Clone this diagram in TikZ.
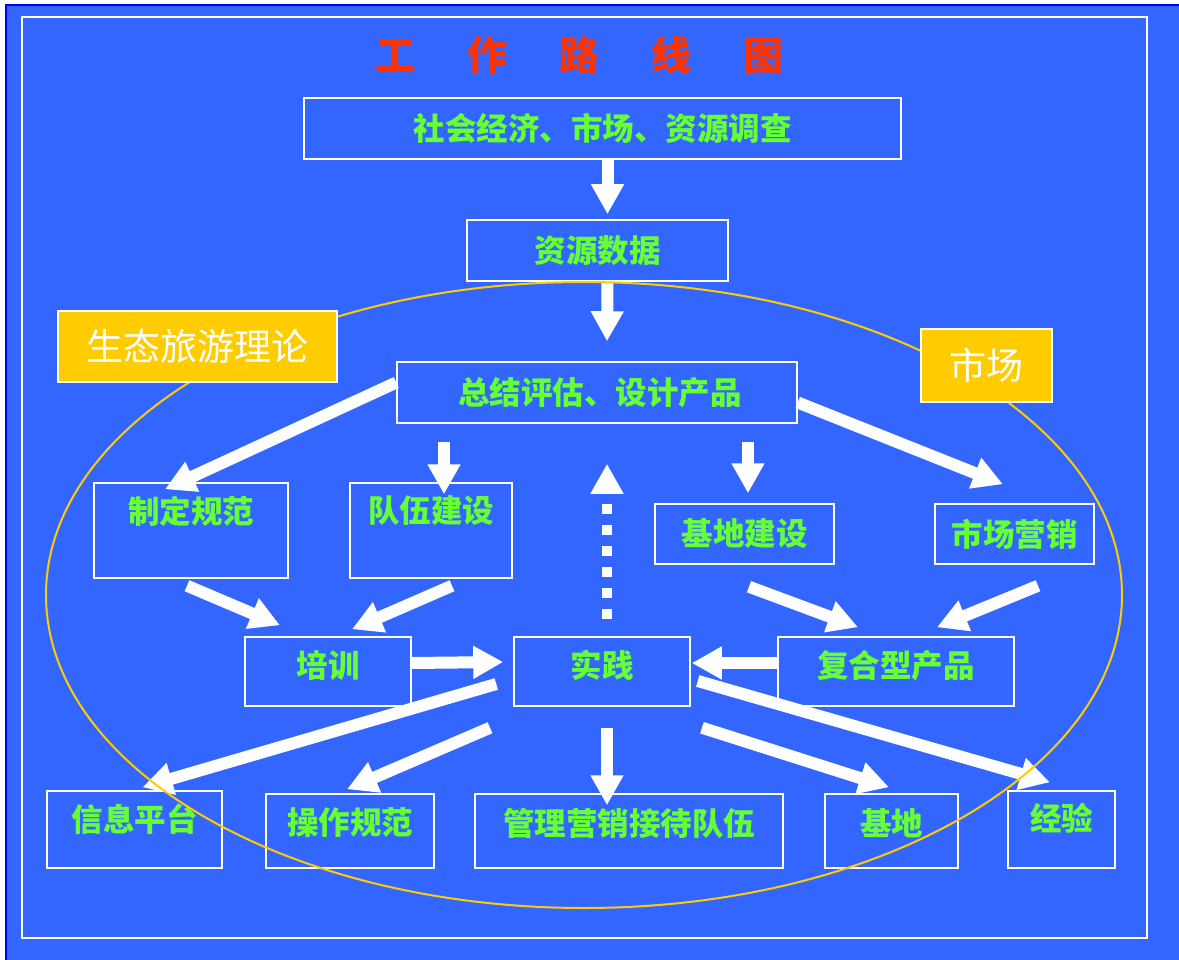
\documentclass[tikz,border=0pt]{standalone}
\usepackage{fontspec}
\setmainfont{Noto Sans CJK SC}
\usetikzlibrary{arrows.meta,calc}
\definecolor{bgblue}{HTML}{3366FF}
\definecolor{edgeblue}{HTML}{0000FF}
\definecolor{txtgreen}{HTML}{66FF33}
\definecolor{titlered}{HTML}{FF3300}
\definecolor{gold}{HTML}{FFCC00}
\begin{document}
\begin{tikzpicture}[x=1pt,y=-1pt,
	box/.style={draw=white,line width=1.5pt,inner sep=0pt},
	txt/.style={text=txtgreen,font=\fontsize{31.5}{31.5}\selectfont\bfseries,inner sep=0pt},
	goldbox/.style={box,fill=gold,text=white,font=\fontsize{37}{37}\selectfont},
	arr/.style={draw=white,line width=12pt,-{Triangle[width=31pt,length=30pt]}},
	]
	\useasboundingbox (0,0) rectangle (1179,960);
	\fill[white] (0,0) rectangle (1179,960);
	\draw[edgeblue,line width=2pt,fill=bgblue] (6,5) rectangle (1190,970);
	\draw[white,line width=1.5pt] (22,17) rectangle (1147,938);
	\node[text=titlered,font=\fontsize{40}{40}\selectfont\bfseries] (title) at (579,55)
		{工\hspace{52pt}作\hspace{52pt}路\hspace{52pt}线\hspace{52pt}图};
	% boxes
	\node[box,minimum width=597pt,minimum height=61pt,label={[txt]center:社会经济、市场、资源调查}] (sh) at (602.5,128.5) {};
	\node[box,minimum width=261pt,minimum height=61pt,label={[txt]center:资源数据}] (zy) at (597.5,250.5) {};
	\node[box,minimum width=400pt,minimum height=61pt,label={[txt,xshift=3pt]center:总结评估、设计产品}] (zj) at (597,392.5) {};
	\node[box,minimum width=194pt,minimum height=95pt,label={[txt,yshift=19.5pt]center:制定规范}] (gf) at (191,530.5) {};
	\node[box,minimum width=162pt,minimum height=95pt,label={[txt,yshift=19.5pt]center:队伍建设}] (dw) at (431,530.5) {};
	\node[box,minimum width=179pt,minimum height=60pt,label={[txt]center:基地建设}] (jd) at (744.5,534) {};
	\node[box,minimum width=159pt,minimum height=60pt,label={[txt]center:市场营销}] (yx) at (1014.5,534) {};
	\node[box,minimum width=166pt,minimum height=69pt,label={[txt,yshift=6pt]center:培训}] (px) at (328,671.5) {};
	\node[box,minimum width=176pt,minimum height=69pt,label={[txt,yshift=6pt]center:实践}] (sj) at (602,671.5) {};
	\node[box,minimum width=236pt,minimum height=69pt,label={[txt,yshift=6pt]center:复合型产品}] (fh) at (896,671.5) {};
	\node[box,minimum width=175pt,minimum height=77pt,label={[txt,yshift=10pt]center:信息平台}] (xx) at (134.5,829.5) {};
	\node[box,minimum width=168pt,minimum height=74pt,label={[txt,yshift=8pt]center:操作规范}] (cz) at (350,831) {};
	\node[box,minimum width=308pt,minimum height=74pt,label={[txt,yshift=8pt]center:管理营销接待队伍}] (gl) at (629,831) {};
	\node[box,minimum width=133pt,minimum height=74pt,label={[txt,yshift=8pt]center:基地}] (jdi) at (891.5,831) {};
	\node[box,minimum width=107pt,minimum height=77pt,label={[txt,yshift=11pt]center:经验}] (jy) at (1061.5,829.5) {};
	% arrows
	\draw[arr] ($(sh.south)+(5,0)$) -- ($(zy.north)+(10,-5)$);
	\draw[arr] ($(zy.south)+(10,0)$) -- ($(zj.north)+(10,-20)$);
	\draw[arr] ($(zj.west)+(0,-10)$) -- ($(gf.north)+(-26,7)$);
	\draw[arr] ($(dw.north)+(13,-40)$) -- ($(dw.north)+(13,12)$);
	\draw[arr] ($(jd.north)+(3.5,-61)$) -- ($(jd.north)+(3.5,-10)$);
	\draw[arr] ($(zj.east)+(0,10)$) -- ($(yx.north)+(-11.5,-19)$);
	\draw[arr] ($(gf.south)+(-4,7)$) -- ($(px.north)+(-48,-11)$);
	\draw[arr] ($(dw.south)+(21,7)$) -- ($(px.north)+(24,-7)$);
	\draw[arr] ($(jd.south)+(4.5,22)$) -- ($(fh.north)+(-38,-9)$);
	\draw[arr] ($(yx.south)+(23.5,21)$) -- ($(fh.north)+(41,-9)$);
	\draw[arr] ($(px.east)+(0,-8.5)$) -- ($(sj.west)+(-10,-9.5)$);
	\draw[arr] ($(fh.west)+(0,-8.5)$) -- ($(sj.east)+(1,-8.5)$);
	\draw[arr,line width=10pt,dash pattern=on 10pt off 11pt] ($(sj.north)+(5,-17)$) -- ($(zj.south)+(10,40)$);
	\draw[arr] ($(sj.west)+(-17,12.5)$) -- ($(xx.north)+(8,-3)$);
	\draw[arr] ($(sj.south)+(-112,21)$) -- ($(cz.north)+(-3,-4)$);
	\draw[arr] ($(sj.south)+(5,21)$) -- ($(gl.north)+(-22,12)$);
	\draw[arr] ($(sj.south)+(100,21)$) -- ($(jdi.north)+(-2.5,-6)$);
	\draw[arr] ($(sj.east)+(7,9.5)$) -- ($(jy.north)+(-11.5,-8)$);
	% ellipse
	\draw[gold,line width=2pt] (584,595) ellipse [x radius=538, y radius=313];
	\node[goldbox,minimum width=279pt,minimum height=71pt] (st) at (197.5,346.5) {生态旅游理论};
	\node[goldbox,minimum width=131pt,minimum height=73pt] (sc) at (986.5,365.5) {市场};
\end{tikzpicture}
\end{document}
